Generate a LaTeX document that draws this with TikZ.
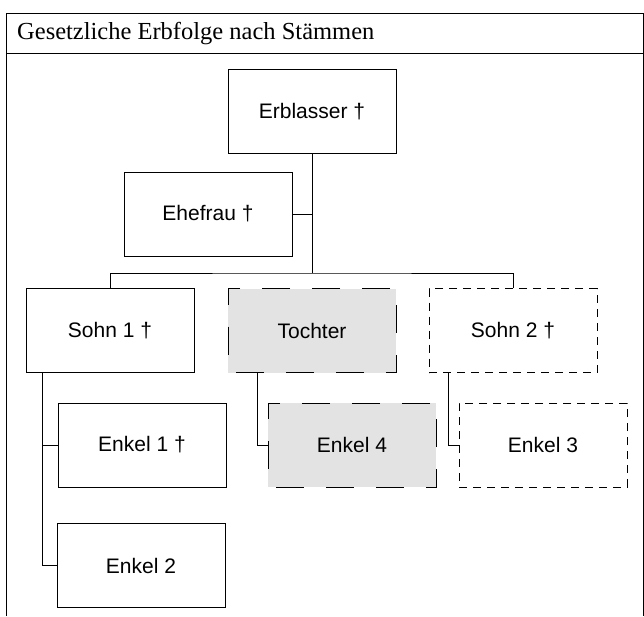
\documentclass[tikz,border=0pt]{standalone}
\usepackage{fontspec}
\setmainfont{Liberation Serif}
\setsansfont{Liberation Sans}
\usepackage{tikz}
\usetikzlibrary{positioning}
\tikzset{person/.style={rectangle,draw=black,line width=0.9pt,minimum width=168pt,minimum height=84pt,inner sep=0pt,font=\sffamily\fontsize{21}{24}\selectfont}}
\tikzset{heir/.style={person,fill=black!11,dash pattern=on 28pt off 22pt,dash phase=-8pt}}
\tikzset{gone/.style={person,dash pattern=on 8pt off 6pt}}
\tikzset{line/.style={line width=0.9pt}}

\begin{document}
\begin{tikzpicture}[x=1pt,y=-1pt]
\useasboundingbox (0,0) rectangle (644,616);
% frame and title
\draw[line] (6,616) |- (643,13) -- (643,616);
\draw[line] (6,53) -- (643,53);
\node (t) [anchor=base west,font=\fontsize{24.5}{27}\selectfont,inner sep=0pt] at (17,39) {Gesetzliche Erbfolge nach Stämmen};
%
\node (e) [person] at (312,111.5) {Erblasser \dag};
\node (w) [person] at (208,214) {Ehefrau \dag};
\node (s1) [person] at (110,330.5) {Sohn 1 \dag};
\node (d) [heir] at (312,330.5) {Tochter};
\node (s2) [gone] at (513,330.5) {Sohn 2 \dag};
\node (k1) [person] at (142,445) {Enkel 1 \dag};
\node (k4) [heir] at (352,445) {Enkel 4};
\node (k3) [gone] at (543,445) {Enkel 3};
\node (k2) [person] at (141,565.5) {Enkel 2};
%
\coordinate (knot) at (312,273);
\draw[line] (e.south) |- (w.east);
\draw[line] (e.south) -- (knot);
\draw[line] (s1.north) |- (knot) -| (s2.north);
\draw[line] ([xshift=17pt]s1.south west) |- (k1.west);
\draw[line] ([xshift=17pt]s1.south west) |- (k2.west);
\draw[line] ([xshift=30pt]d.south west) |- (k4.west);
\draw[line] ([xshift=20pt]s2.south west) |- (k3.west);
\end{tikzpicture}
\end{document}
